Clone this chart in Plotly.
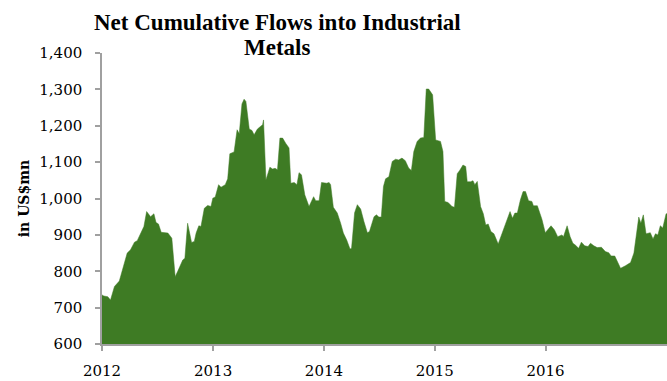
import plotly.graph_objects as go

dates = [
    "2012-01-01", "2012-01-07", "2012-01-20", "2012-01-29", "2012-02-11", "2012-02-27", "2012-03-24",
    "2012-04-04", "2012-04-17", "2012-04-26", "2012-05-18", "2012-05-27", "2012-06-09",
    "2012-06-20", "2012-06-27", "2012-07-05", "2012-07-14", "2012-08-05", "2012-08-18",
    "2012-08-29", "2012-09-06", "2012-09-23", "2012-09-30", "2012-10-09", "2012-10-22",
    "2012-10-31", "2012-11-06", "2012-11-15", "2012-11-22", "2012-12-03", "2012-12-14",
    "2012-12-25", "2012-12-31", "2013-01-08", "2013-01-19", "2013-01-27", "2013-02-10",
    "2013-02-18", "2013-02-25", "2013-03-11", "2013-03-21", "2013-03-28", "2013-04-06",
    "2013-04-13", "2013-04-19", "2013-04-30", "2013-05-09", "2013-05-16", "2013-05-27",
    "2013-06-13", "2013-06-16", "2013-06-24", "2013-07-07", "2013-07-16", "2013-07-24",
    "2013-08-01", "2013-08-09", "2013-08-18", "2013-08-28", "2013-09-08", "2013-09-14",
    "2013-09-25", "2013-10-04", "2013-10-11", "2013-10-19", "2013-10-30", "2013-11-13",
    "2013-11-28", "2013-12-05", "2013-12-16", "2013-12-24", "2014-01-10", "2014-01-18",
    "2014-01-23", "2014-02-01", "2014-02-14", "2014-02-25", "2014-03-06", "2014-03-17",
    "2014-03-28", "2014-04-02", "2014-04-12", "2014-04-21", "2014-05-02", "2014-05-13",
    "2014-05-24", "2014-05-31", "2014-06-15", "2014-06-23", "2014-07-01", "2014-07-09",
    "2014-07-16", "2014-07-23", "2014-08-03", "2014-08-14", "2014-08-25", "2014-09-04",
    "2014-09-15", "2014-09-26", "2014-10-07", "2014-10-16", "2014-10-24", "2014-11-04",
    "2014-11-15", "2014-11-26", "2014-12-04", "2014-12-12", "2014-12-25", "2015-01-04",
    "2015-01-20", "2015-01-28", "2015-02-03", "2015-02-14", "2015-02-27", "2015-03-07",
    "2015-03-16", "2015-03-24", "2015-04-04", "2015-04-13", "2015-04-18", "2015-04-29",
    "2015-05-07", "2015-05-13", "2015-05-21", "2015-06-01", "2015-06-10", "2015-06-18",
    "2015-06-26", "2015-07-05", "2015-07-15", "2015-07-29", "2015-08-12", "2015-08-29",
    "2015-09-06", "2015-09-14", "2015-09-22", "2015-09-30", "2015-10-10", "2015-10-19",
    "2015-10-27", "2015-11-06", "2015-11-17", "2015-11-22", "2015-12-05", "2015-12-20",
    "2015-12-31", "2016-01-19", "2016-01-30", "2016-02-10", "2016-02-24", "2016-02-29",
    "2016-03-12", "2016-03-22", "2016-03-31", "2016-04-08", "2016-04-19", "2016-04-28",
    "2016-05-09", "2016-05-20", "2016-05-28", "2016-06-08", "2016-06-19", "2016-07-03",
    "2016-07-16", "2016-07-27", "2016-08-04", "2016-08-16", "2016-08-24", "2016-09-04",
    "2016-09-20", "2016-10-07", "2016-10-18", "2016-10-25", "2016-11-03", "2016-11-10",
    "2016-11-18", "2016-11-27", "2016-12-11", "2016-12-20", "2016-12-28", "2017-01-05",
    "2017-01-13", "2017-01-21", "2017-02-01", "2017-02-05",
]

flows = [
    735, 732, 730, 721, 758, 773, 850,
    859, 880, 884, 923, 964, 950,
    958, 934, 930, 907, 905, 891,
    785, 799, 831, 836, 932, 879,
    882, 905, 925, 923, 973, 981,
    978, 1001, 1004, 1038, 1031, 1038,
    1054, 1123, 1128, 1189, 1178, 1260,
    1273, 1267, 1191, 1187, 1175, 1191,
    1203, 1216, 1051, 1086, 1081, 1083,
    1079, 1166, 1166, 1152, 1139, 1042,
    1044, 1038, 1071, 1065, 1010, 978,
    1005, 994, 994, 1044, 1042, 1044,
    1038, 976, 960, 932, 905, 886,
    861, 863, 961, 983, 971, 936,
    906, 909, 950, 955, 949, 949,
    1033, 1054, 1060, 1102, 1108, 1106,
    1111, 1104, 1084, 1077, 1129, 1157,
    1166, 1168, 1301, 1301, 1285, 1161,
    1157, 1129, 992, 989, 978, 976,
    1068, 1077, 1092, 1088, 1046, 1046,
    1049, 1038, 1047, 978, 958, 927,
    930, 909, 903, 875, 909, 946,
    964, 946, 960, 960, 996, 1019,
    1019, 994, 992, 980, 980, 943,
    906, 925, 914, 895, 900, 895,
    925, 895, 877, 872, 863, 880,
    870, 868, 877, 870, 865, 866,
    854, 851, 842, 842, 827, 808,
    815, 824, 850, 900, 949, 932,
    955, 903, 906, 889, 903, 900,
    925, 919, 958, 958,
]

year_ticks = ["2012-01-01", "2013-01-01", "2014-01-01", "2015-01-01", "2016-01-01"]
year_labels = ["2012", "2013", "2014", "2015", "2016"]
title_lines = ["Net Cumulative Flows into Industrial", "Metals"]

GREEN = "#3E7B24"
FONT = "DejaVu Serif"
TITLE_FONT = "Liberation Serif"

fig = go.Figure()
fig.add_trace(go.Scatter(
    x=dates, y=flows, mode="lines", fill="tozeroy",
    line=dict(color=GREEN, width=0.5), fillcolor=GREEN,
    hoverinfo="skip", showlegend=False,
))

PLOT_H = 381 - 53 - 37
for i, line in enumerate(title_lines):
    top_px = 8 + 25 * i
    fig.add_annotation(
        text=f"<b>{line}</b>",
        xref="paper", yref="paper",
        x=(277 - 102) / (667 - 102), y=1 + (53 - top_px) / PLOT_H,
        xanchor="center", yanchor="top", showarrow=False,
        font=dict(family=TITLE_FONT, size=23, color="black"),
    )

fig.update_layout(
    width=667, height=381,
    margin=dict(l=102, r=0, t=53, b=37),
    paper_bgcolor="white", plot_bgcolor="white",
    font=dict(family=FONT, color="black", size=15),
    xaxis=dict(
        type="date", range=["2012-01-01", "2017-02-04"],
        tickvals=year_ticks, ticktext=year_labels,
        showgrid=False, zeroline=False,
        showline=True, linecolor="#A0A0A0", linewidth=1.5,
        ticks="outside", ticklen=5, tickcolor="#A0A0A0", tickwidth=1.5,
        tickfont=dict(family=FONT, size=15),
        ticklabelstandoff=7,
    ),
    yaxis=dict(
        range=[600, 1400], dtick=100, tickformat=",",
        showgrid=False, zeroline=False,
        showline=True, linecolor="#A0A0A0", linewidth=1.5,
        ticks="outside", ticklen=5, tickcolor="#A0A0A0", tickwidth=1.5,
        tickfont=dict(family=FONT, size=15),
        ticklabelstandoff=10,
        title=dict(text="<b>in US$mn</b>", font=dict(family=FONT, size=14), standoff=6),
    ),
)

fig.write_html("out.html")
